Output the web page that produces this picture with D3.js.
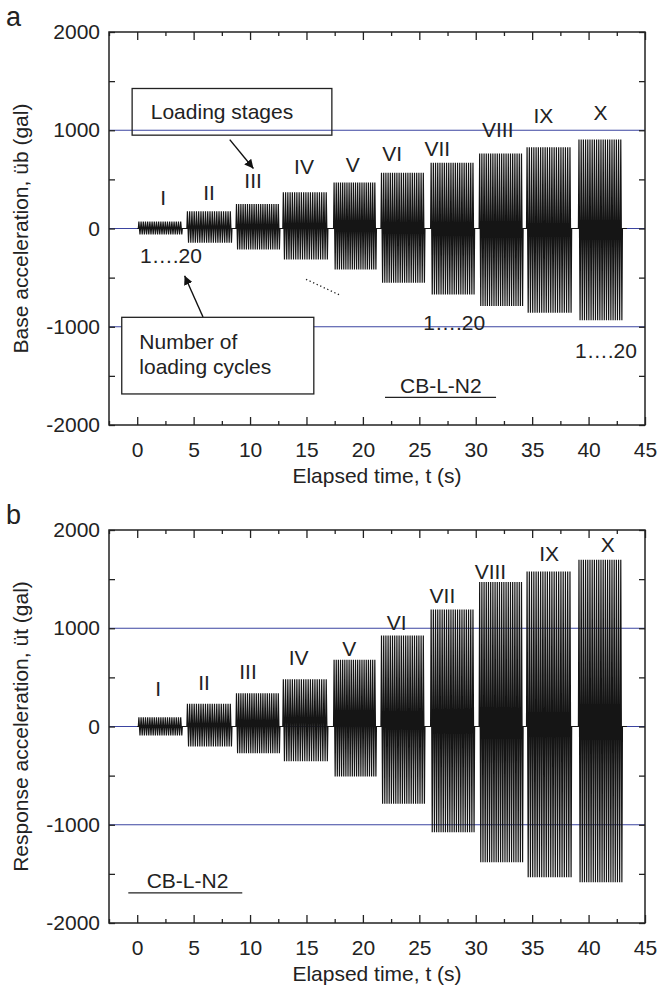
<!DOCTYPE html>
<html>
<head>
<meta charset="utf-8">
<script src="https://cdn.jsdelivr.net/npm/d3@7"></script>
<style>
  body { margin: 0; background: #fff; }
  text { font-family: Arial, "Liberation Sans", sans-serif; fill: #222; }
</style>
</head>
<body>
<div id="chart"></div>
<script>
// ---- data ----
const timeTicks = [0, 5, 10, 15, 20, 25, 30, 35, 40, 45];
const accelTicks = [-2000, -1000, 0, 1000, 2000];
const refLines = [-1000, 0, 1000];

const stageNames = ["I", "II", "III", "IV", "V", "VI", "VII", "VIII", "IX", "X"];
const stageStart = [0.1, 4.4, 8.75, 12.9, 17.4, 21.6, 26.0, 30.3, 34.5, 39.1];
const stageEnd   = [4.0, 8.4, 12.65, 16.9, 21.2, 25.5, 29.9, 34.2, 38.5, 43.0];
const cyclesPerStage = 20;
const traceEnd = 43.4;

// base acceleration (gal), peak / trough of each stage
const basePeak   = [70, 175, 250, 370, 468, 567, 668, 763, 828, 906];
const baseTrough = [-60, -146, -214, -316, -417, -553, -672, -790, -858, -933];

// response acceleration (gal), peak / trough of each stage
const respPeak   = [95, 231, 339, 480, 679, 927, 1191, 1470, 1578, 1697];
const respTrough = [-92, -204, -272, -353, -510, -787, -1076, -1382, -1535, -1585];

// where the stage numerals sit (t, gal)
const baseLabelT = [2.3, 6.37, 10.27, 14.78, 19.1, 22.6, 26.6, 31.95, 36.0, 41.06];
const baseLabelV = [244, 295, 417, 550, 580, 682, 743, 936, 1069, 1109];
const respLabelT = [1.86, 5.93, 9.82, 14.3, 18.8, 23.0, 27.05, 31.3, 36.5, 41.7];
const respLabelV = [309, 367, 486, 621, 713, 985, 1256, 1504, 1683, 1775];

// ---- layout ----
const W = 657, H = 988;
const fs = 21;

const svg = d3.select("#chart").append("svg")
    .attr("width", W)
    .attr("height", H);

svg.append("defs").append("marker")
    .attr("id", "arrow")
    .attr("viewBox", "0 0 10 10")
    .attr("refX", 10).attr("refY", 5)
    .attr("markerWidth", 9).attr("markerHeight", 9)
    .attr("markerUnits", "userSpaceOnUse")
    .attr("orient", "auto")
  .append("path")
    .attr("d", "M0,0L10,5L0,10z")
    .attr("fill", "#111");

const x = d3.scaleLinear().domain([-2.5, 45]).range([109, 645]);

// build the zig-zag record of one signal from the stage table
function trace(peak, trough) {
  const pts = [[0, 0]];
  stageStart.forEach((s, i) => {
    const T = (stageEnd[i] - s) / cyclesPerStage;
    pts.push([s, 0]);
    for (let k = 0; k < cyclesPerStage; k++) {
      pts.push([s + (k + 0.25) * T, peak[i]]);
      pts.push([s + (k + 0.75) * T, trough[i]]);
    }
    pts.push([stageEnd[i], 0]);
  });
  pts.push([traceEnd, 0]);
  return pts;
}

function drawPanel(opt) {
  const y = d3.scaleLinear().domain([-2000, 2000]).range([opt.bottom, opt.top]);
  const g = svg.append("g");

  // blue reference lines
  g.selectAll(".ref").data(refLines).enter().append("line")
      .attr("x1", x.range()[0]).attr("x2", x.range()[1])
      .attr("y1", d => y(d)).attr("y2", d => y(d))
      .attr("stroke", "#3b44a0").attr("stroke-width", 1.2);

  // acceleration record
  g.append("path")
      .datum(trace(opt.peak, opt.trough))
      .attr("fill", "none")
      .attr("stroke", "#151515")
      .attr("stroke-width", 1.2)
      .attr("d", d3.line().x(d => x(d[0])).y(d => y(d[1])));

  // frame
  g.append("rect")
      .attr("x", x.range()[0]).attr("y", opt.top)
      .attr("width", x.range()[1] - x.range()[0])
      .attr("height", opt.bottom - opt.top)
      .attr("fill", "none").attr("stroke", "#222").attr("stroke-width", 1.5);

  const minorT = d3.range(-2.5, 45, 5);
  const tickY = d3.range(-2000, 2001, 500);

  // bottom axis
  const bx = g.append("g").attr("transform", `translate(0,${opt.bottom})`)
      .call(d3.axisBottom(x).tickValues(timeTicks).tickSizeInner(-8).tickSizeOuter(0).tickPadding(17));
  bx.append("g").call(d3.axisBottom(x).tickValues(minorT).tickSizeInner(-4).tickSizeOuter(0).tickFormat(""));
  // top axis
  const tx = g.append("g").attr("transform", `translate(0,${opt.top})`);
  tx.call(d3.axisTop(x).tickValues(timeTicks).tickSizeInner(-8).tickSizeOuter(0).tickFormat(""));
  tx.append("g").call(d3.axisTop(x).tickValues(minorT).tickSizeInner(-4).tickSizeOuter(0).tickFormat(""));
  // left axis
  g.append("g").attr("transform", `translate(${x.range()[0]},0)`)
      .call(d3.axisLeft(y).tickValues(tickY).tickSizeInner(-6).tickSizeOuter(0).tickPadding(9)
        .tickFormat(d => accelTicks.includes(d) ? d : ""));
  // right axis
  g.append("g").attr("transform", `translate(${x.range()[1]},0)`)
      .call(d3.axisRight(y).tickValues(tickY).tickSizeInner(-6).tickSizeOuter(0).tickFormat(""));

  g.selectAll(".domain").remove();
  g.selectAll(".tick line").attr("stroke", "#222").attr("stroke-width", 1.3);
  g.selectAll(".tick text").attr("font-size", fs).attr("fill", "#222")
      .style("font-family", "Arial, 'Liberation Sans', sans-serif");

  // stage numerals
  g.selectAll(".stage").data(stageNames).enter().append("text")
      .attr("x", (d, i) => x(opt.labelT[i]))
      .attr("y", (d, i) => y(opt.labelV[i]))
      .attr("text-anchor", "middle")
      .attr("font-size", fs)
      .text(d => d);

  // axis titles
  g.append("text")
      .attr("x", (x.range()[0] + x.range()[1]) / 2)
      .attr("y", opt.bottom + 58)
      .attr("text-anchor", "middle")
      .attr("font-size", fs)
      .text("Elapsed time, t (s)");
  g.append("text")
      .attr("transform", `translate(28,${(opt.top + opt.bottom) / 2}) rotate(-90)`)
      .attr("text-anchor", "middle")
      .attr("font-size", fs)
      .text(opt.ylabel);

  // panel letter
  g.append("text")
      .attr("x", 6).attr("y", opt.top - 6)
      .attr("font-size", 27)
      .text(opt.letter);

  return { g, y };
}

const pa = drawPanel({
  top: 32, bottom: 425, peak: basePeak, trough: baseTrough,
  labelT: baseLabelT, labelV: baseLabelV,
  ylabel: "Base acceleration, üb (gal)", letter: "a"
});
const pb = drawPanel({
  top: 530, bottom: 923, peak: respPeak, trough: respTrough,
  labelT: respLabelT, labelV: respLabelV,
  ylabel: "Response acceleration, üt (gal)", letter: "b"
});

// ---- annotations, panel a ----
const ga = pa.g, ya = pa.y;

ga.append("rect")
    .attr("x", x(-0.45)).attr("y", ya(1425))
    .attr("width", x(17.25) - x(-0.45)).attr("height", ya(950) - ya(1425))
    .attr("fill", "none").attr("stroke", "#222").attr("stroke-width", 1.3);
ga.append("text").attr("x", x(1.2)).attr("y", ya(1110)).attr("font-size", fs).text("Loading stages");
ga.append("line")
    .attr("x1", x(8.2)).attr("y1", ya(905)).attr("x2", x(10.3)).attr("y2", ya(610))
    .attr("stroke", "#111").attr("stroke-width", 1.4).attr("marker-end", "url(#arrow)");

ga.append("text").attr("x", x(0.25)).attr("y", ya(-354)).attr("font-size", fs).text("1….20");
ga.append("line")
    .attr("x1", x(5.83)).attr("y1", ya(-901)).attr("x2", x(4.2)).attr("y2", ya(-480))
    .attr("stroke", "#111").attr("stroke-width", 1.4).attr("marker-end", "url(#arrow)");

ga.append("rect")
    .attr("x", x(-1.37)).attr("y", ya(-904))
    .attr("width", x(15.65) - x(-1.37)).attr("height", ya(-1684) - ya(-904))
    .attr("fill", "#fff").attr("stroke", "#222").attr("stroke-width", 1.3);
ga.append("text").attr("x", x(0.19)).attr("y", ya(-1226)).attr("font-size", fs).text("Number of");
ga.append("text").attr("x", x(0.19)).attr("y", ya(-1484)).attr("font-size", fs).text("loading cycles");

ga.append("line")
    .attr("x1", x(14.96)).attr("y1", ya(-517)).attr("x2", x(18.0)).attr("y2", ya(-680))
    .attr("stroke", "#222").attr("stroke-width", 1.3).attr("stroke-dasharray", "1.3,2.6");

ga.append("text").attr("x", x(25.35)).attr("y", ya(-1033)).attr("font-size", fs).text("1….20");
ga.append("text").attr("x", x(38.8)).attr("y", ya(-1321)).attr("font-size", fs).text("1….20");

ga.append("text").attr("x", x(23.29)).attr("y", ya(-1677)).attr("font-size", fs).text("CB-L-N2");
ga.append("line")
    .attr("x1", x(21.96)).attr("x2", x(31.8)).attr("y1", ya(-1718)).attr("y2", ya(-1718))
    .attr("stroke", "#222").attr("stroke-width", 1.3);

// ---- annotations, panel b ----
const gb = pb.g, yb = pb.y;
gb.append("text").attr("x", x(0.84)).attr("y", yb(-1648)).attr("font-size", fs).text("CB-L-N2");
gb.append("line")
    .attr("x1", x(-0.79)).attr("x2", x(9.31)).attr("y1", yb(-1693)).attr("y2", yb(-1693))
    .attr("stroke", "#222").attr("stroke-width", 1.3);
</script>
</body>
</html>
